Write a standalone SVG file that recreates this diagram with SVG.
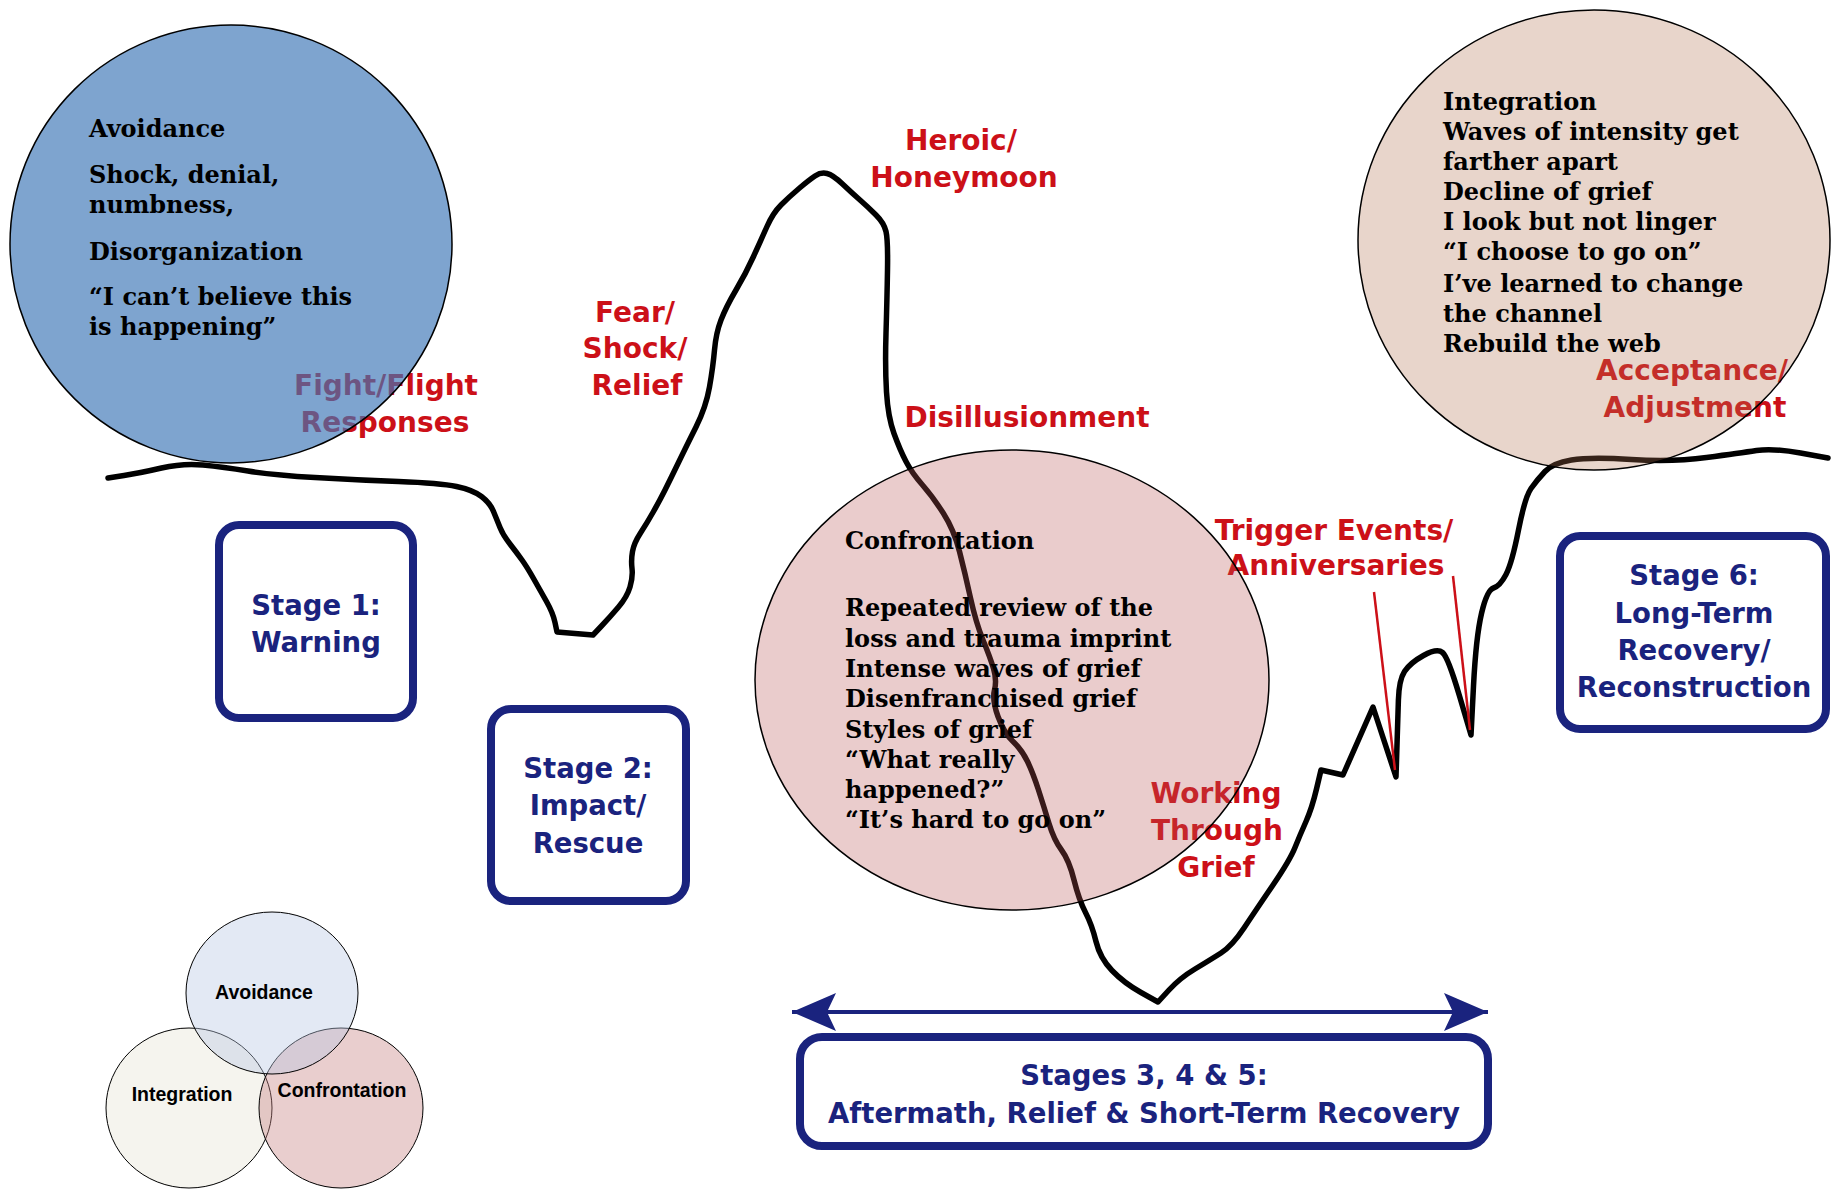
<svg xmlns="http://www.w3.org/2000/svg" width="1831" height="1189" viewBox="0 0 1831 1189">
<style>
.lbl{font-family:'DejaVu Sans',Verdana,sans-serif;font-weight:bold;font-size:28px;fill:#cc1018;text-anchor:middle}
.stg{font-family:'DejaVu Sans',Verdana,sans-serif;font-weight:bold;font-size:27.5px;fill:#1a237e;text-anchor:middle}
.box{fill:#fff;stroke:#1a237e;stroke-width:8}
.ser{font-family:'DejaVu Serif',Georgia,serif;font-weight:bold;font-size:24px;fill:#000}
.venn{font-family:'Liberation Sans',Arial,sans-serif;font-weight:bold;font-size:19.5px;fill:#000;text-anchor:middle}
.ring{stroke:#000;stroke-width:1.5}
.vring{stroke:#000;stroke-width:1}
</style>
<defs>
<marker id="ah" viewBox="0 0 44 38" refX="44" refY="19" markerWidth="44" markerHeight="38" markerUnits="userSpaceOnUse" orient="auto-start-reverse">
<path d="M0,0 L44,19 L0,38 L9,19 Z" fill="#1a237e"/>
</marker>
</defs>
<rect width="1831" height="1189" fill="#fff"/>
<g id="connectors">
<path id="curve" fill="none" stroke="#000" stroke-width="5.5" stroke-linejoin="round" stroke-linecap="round" d="M108,478 L124,475.5 Q140,473 161.5,468 Q183,463 203,465 Q223,467 248,471 Q273,475 315,477.5 Q357,480 398.5,481.5 Q440,483 456.5,486.5 Q473,490 481.5,496.5 Q490,503 493.5,511.5 Q497,520 500,527.5 Q503,535 510,544 Q517,553 522,560 Q527,567 533.5,578.5 Q540,590 546.5,601.5 Q553,613 555,622.5 L557,632 L593,635 L601.5,626 Q610,617 618.5,607 Q627,597 630,587 Q633,577 632,568.5 Q631,560 632.5,551.5 Q634,543 640.5,533 Q647,523 653.5,511.5 Q660,500 665,490 Q670,480 678,463.5 Q686,447 696,427 Q706,407 709.5,387 Q713,367 714.5,350 Q716,333 721,320 Q726,307 736,290 Q746,273 753.5,256.5 Q761,240 767,226.5 Q773,213 781,205 Q789,197 799,188.5 Q809,180 815,176 Q821,172 827,173.5 Q833,175 842.5,184 Q852,193 860,200 Q868,207 876,215 Q884,223 886,231.5 Q888,240 887.5,270 Q887,300 886,333.5 Q885,367 886.5,392 Q888,417 894,433.5 Q900,450 906,461.5 Q912,473 922.5,485 Q933,497 943.5,513.5 Q954,530 959.5,551.5 Q965,573 970.5,598 Q976,623 983,640 Q990,657 993.5,668.5 Q997,680 994.5,690 Q992,700 998,716.5 Q1004,733 1013,741.5 Q1022,750 1027.5,761.5 Q1033,773 1038.5,790 Q1044,807 1049,823.5 Q1054,840 1061.5,850 Q1069,860 1074,880 Q1079,900 1085.5,912.5 Q1092,925 1096,941.5 Q1100,958 1112,970.5 Q1124,983 1141,992.5 L1158,1002 L1169,990 Q1180,978 1195,969 Q1210,960 1221,953 Q1232,946 1244,928 Q1256,910 1273,885 Q1290,860 1295,847.5 Q1300,835 1306,821.5 Q1312,808 1316.5,789 L1321,770 L1343,775 L1373,707 L1396,777 L1398.4,700 Q1399,680 1404.5,671.5 Q1410,663 1423.5,655.5 Q1437,648 1442.5,652.5 Q1448,657 1459.5,696 L1471,735 L1473.5,686 Q1476,637 1481.5,613.5 Q1487,590 1493.5,588 Q1500,586 1506,574.5 Q1512,563 1518.5,530 Q1525,497 1531,488.5 Q1537,480 1545,471.5 Q1553,463 1571.5,460 Q1590,457 1631.5,459.5 Q1673,462 1706.5,457.5 Q1740,453 1756.5,450.5 Q1773,448 1800.5,453 L1828,458"/>
<line x1="1374" y1="592" x2="1395" y2="770" stroke="#cc1018" stroke-width="2.5"/>
<line x1="1453" y1="576" x2="1470" y2="730" stroke="#cc1018" stroke-width="2.5"/>
<line x1="792" y1="1012" x2="1488" y2="1012" stroke="#1a237e" stroke-width="4" marker-start="url(#ah)" marker-end="url(#ah)"/>
</g>
<g id="labels">
<text class="lbl" x="386" y="395">Fight/Flight</text>
<text class="lbl" x="385" y="432">Responses</text>
<text class="lbl" x="635" y="322">Fear/</text>
<text class="lbl" x="635" y="358">Shock/</text>
<text class="lbl" x="637" y="395">Relief</text>
<text class="lbl" x="961" y="150">Heroic/</text>
<text class="lbl" x="964" y="187">Honeymoon</text>
<text class="lbl" x="1027" y="427">Disillusionment</text>
<text class="lbl" x="1334" y="540">Trigger Events/</text>
<text class="lbl" x="1336" y="575">Anniversaries</text>
<text class="lbl" x="1216" y="803">Working</text>
<text class="lbl" x="1217" y="840">Through</text>
<text class="lbl" x="1216" y="877">Grief</text>
<text class="lbl" x="1692" y="380">Acceptance/</text>
<text class="lbl" x="1695" y="417">Adjustment</text>
</g>
<g id="avoidance-circle">
<ellipse class="ring" cx="231" cy="244" rx="221" ry="219" fill="#3f78b8" fill-opacity="0.67"/>
<text class="ser" x="89" y="137">Avoidance</text>
<text class="ser" x="89" y="183">Shock, denial,</text>
<text class="ser" x="89" y="213">numbness,</text>
<text class="ser" x="89" y="260">Disorganization</text>
<text class="ser" x="89" y="305">“I can’t believe this</text>
<text class="ser" x="89" y="335">is happening”</text>
</g>
<g id="confrontation-circle">
<ellipse class="ring" cx="1012" cy="680" rx="257" ry="230" fill="#b95555" fill-opacity="0.3"/>
<text class="ser" x="845" y="549">Confrontation</text>
<text class="ser" x="845" y="616">Repeated review of the</text>
<text class="ser" x="845" y="647">loss and trauma imprint</text>
<text class="ser" x="845" y="677">Intense waves of grief</text>
<text class="ser" x="845" y="707">Disenfranchised grief</text>
<text class="ser" x="845" y="738">Styles of grief</text>
<text class="ser" x="845" y="768">“What really</text>
<text class="ser" x="845" y="798">happened?”</text>
<text class="ser" x="845" y="828">“It’s hard to go on”</text>
</g>
<g id="integration-circle">
<ellipse class="ring" cx="1594" cy="240" rx="236" ry="230" fill="#b27352" fill-opacity="0.3"/>
<text class="ser" x="1443" y="110">Integration</text>
<text class="ser" x="1443" y="140">Waves of intensity get</text>
<text class="ser" x="1443" y="170">farther apart</text>
<text class="ser" x="1443" y="200">Decline of grief</text>
<text class="ser" x="1443" y="230">I look but not linger</text>
<text class="ser" x="1443" y="260">“I choose to go on”</text>
<text class="ser" x="1443" y="292">I’ve learned to change</text>
<text class="ser" x="1443" y="322">the channel</text>
<text class="ser" x="1443" y="352">Rebuild the web</text>
</g>
<g id="stage1">
<rect class="box" x="219" y="525" width="194" height="193" rx="20"/>
<text class="stg" x="316" y="615">Stage 1:</text>
<text class="stg" x="316" y="652">Warning</text>
</g>
<g id="stage2">
<rect class="box" x="491" y="709" width="195" height="192" rx="20"/>
<text class="stg" x="588" y="778">Stage 2:</text>
<text class="stg" x="588" y="815">Impact/</text>
<text class="stg" x="588" y="853">Rescue</text>
</g>
<g id="stage345">
<rect class="box" x="800" y="1037" width="688" height="109" rx="22"/>
<text class="stg" x="1144" y="1085">Stages 3, 4 &amp; 5:</text>
<text class="stg" x="1144" y="1123">Aftermath, Relief &amp; Short-Term Recovery</text>
</g>
<g id="stage6">
<rect class="box" x="1560" y="536" width="266" height="193" rx="20"/>
<text class="stg" x="1694" y="585">Stage 6:</text>
<text class="stg" x="1694" y="623">Long-Term</text>
<text class="stg" x="1694" y="660">Recovery/</text>
<text class="stg" x="1694" y="697">Reconstruction</text>
</g>
<g id="venn">
<g id="venn-integration">
<ellipse class="vring" cx="189" cy="1108" rx="83" ry="80" fill="#efede3" fill-opacity="0.6"/>
</g>
<g id="venn-confrontation">
<ellipse class="vring" cx="341" cy="1108" rx="82" ry="80" fill="#c98585" fill-opacity="0.4"/>
</g>
<g id="venn-avoidance">
<ellipse class="vring" cx="272" cy="993" rx="86" ry="81" fill="#b8c8e4" fill-opacity="0.4"/>
</g>
<text class="venn" x="264" y="999">Avoidance</text>
<text class="venn" x="182" y="1101">Integration</text>
<text class="venn" x="342" y="1097">Confrontation</text>
</g>
</svg>
